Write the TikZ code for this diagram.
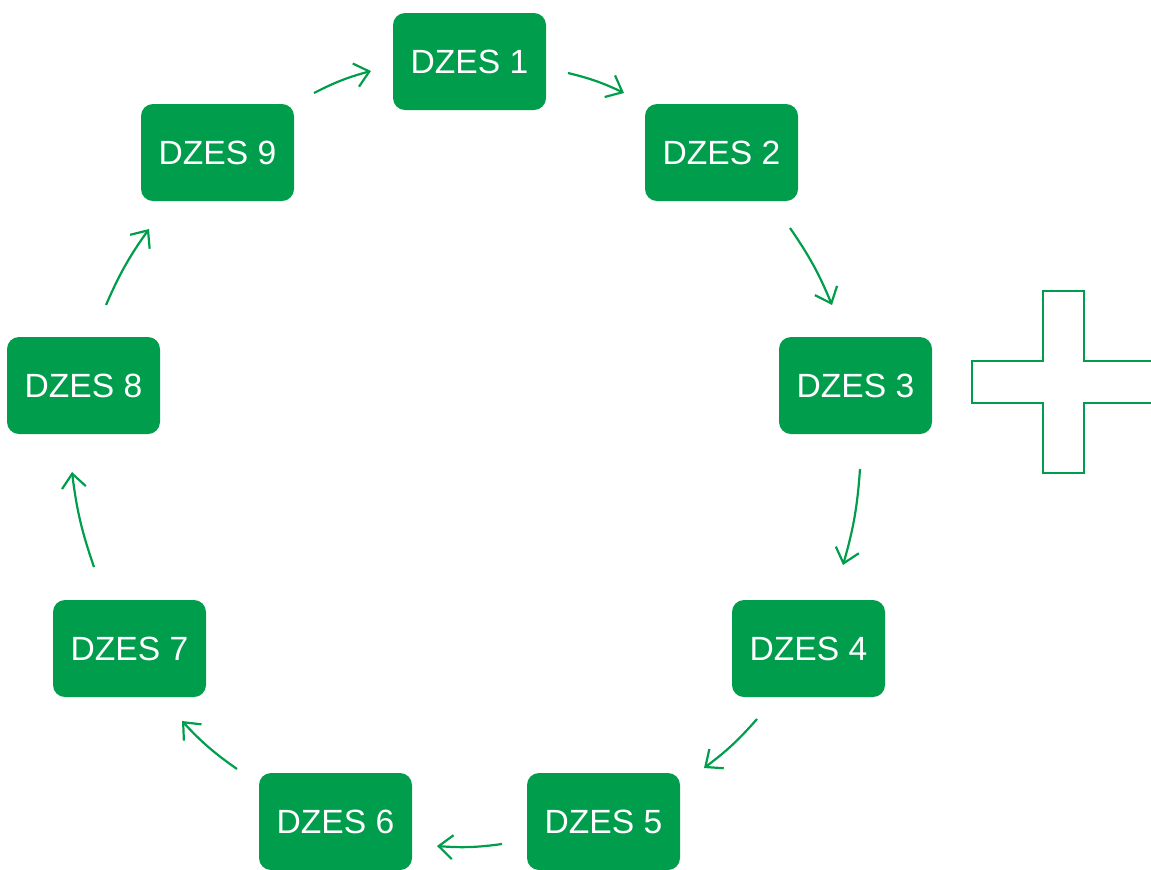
\documentclass[tikz,border=0pt]{standalone}
\usepackage{fontspec}
\setmainfont{Liberation Sans}
\usetikzlibrary{arrows.meta}
\definecolor{dzgreen}{RGB}{0,158,76}
\tikzset{
  box/.style={fill=dzgreen, draw=none, rounded corners=6pt, minimum width=76.5pt, minimum height=48.5pt, inner sep=0pt, text=white, font=\fontsize{16.8}{20}\selectfont},
  flow/.style={draw=dzgreen, line width=1.1pt, -{Straight Barb[length=7pt,width=12pt,line width=1.1pt]}, bend left=6},
  crossline/.style={draw=dzgreen, line width=1.3pt}
}
\begin{document}
\begin{tikzpicture}[x=0.5pt,y=-0.5pt]
\useasboundingbox (0,0) rectangle (1151,869);
\clip (0,0) rectangle (1151,869);
\node[box] (n1) at (469.5,61.5) {DZES 1};
\node[box] (n2) at (721.5,152.5) {DZES 2};
\node[box] (n3) at (855.5,385.5) {DZES 3};
\node[box] (n4) at (808.5,648.5) {DZES 4};
\node[box] (n5) at (603.5,821.5) {DZES 5};
\node[box] (n6) at (335.5,821.5) {DZES 6};
\node[box] (n7) at (129.5,648.5) {DZES 7};
\node[box] (n8) at (83.5,385.5) {DZES 8};
\node[box] (n9) at (217.5,152.5) {DZES 9};
\coordinate (a91) at (314,93);   \coordinate (b91) at (371,71);
\coordinate (a12) at (568,73);   \coordinate (b12) at (624,93);
\coordinate (a23) at (790,228);  \coordinate (b23) at (832,305);
\coordinate (a34) at (860,469);  \coordinate (b34) at (843,565);
\coordinate (a45) at (757,719);  \coordinate (b45) at (704,768);
\coordinate (a56) at (502,844);  \coordinate (b56) at (437,846);
\coordinate (a67) at (237,769);  \coordinate (b67) at (182,721);
\coordinate (a78) at (94,567);   \coordinate (b78) at (72,472);
\coordinate (a89) at (106,305);  \coordinate (b89) at (149,229);
\draw[flow] (a91) to (b91);
\draw[flow] (a12) to (b12);
\draw[flow] (a23) to (b23);
\draw[flow] (a34) to (b34);
\draw[flow] (a45) to (b45);
\draw[flow] (a56) to (b56);
\draw[flow] (a67) to (b67);
\draw[flow] (a78) to (b78);
\draw[flow] (a89) to (b89);
\draw[crossline] (1160,361) -- (1084,361) -- (1084,291) -- (1043,291) -- (1043,361) -- (972,361)
  -- (972,403) -- (1043,403) -- (1043,473) -- (1084,473) -- (1084,403) -- (1160,403);
\end{tikzpicture}
\end{document}
